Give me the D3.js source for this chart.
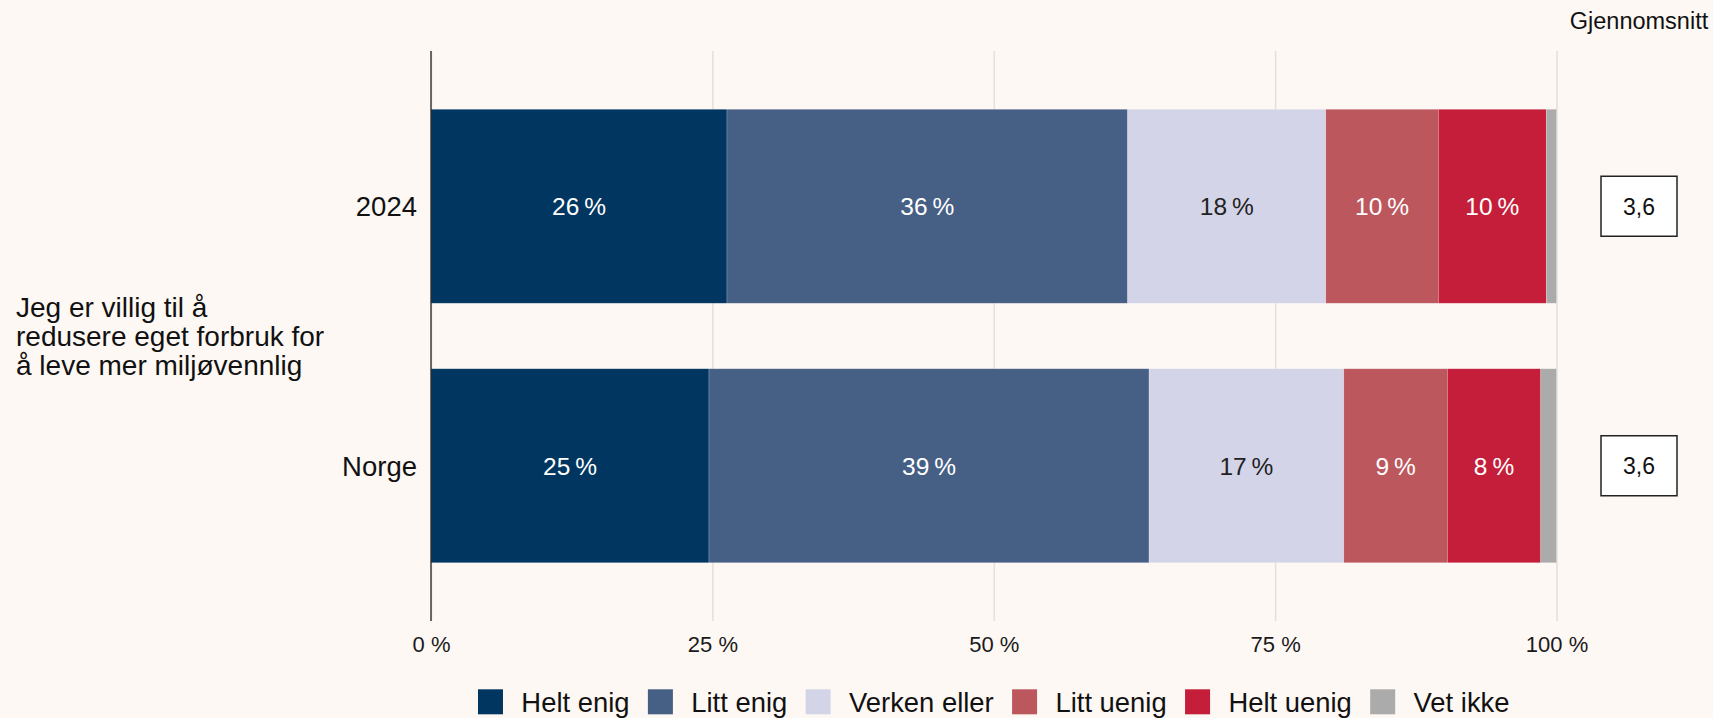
<!DOCTYPE html>
<html>
<head>
<meta charset="utf-8">
<script src="https://cdn.jsdelivr.net/npm/d3@7"></script>
<style>
  html, body { margin: 0; padding: 0; background: #fdf8f4; }
  svg { display: block; font-family: "Liberation Sans", Arial, sans-serif; }
</style>
</head>
<body>
<div id="chart"></div>
<script>
  // data (share of respondents, %)
  const categories = ["2024", "Norge"];
  const answers = ["Helt enig", "Litt enig", "Verken eller", "Litt uenig", "Helt uenig", "Vet ikke"];
  const values2024 = [26.3, 35.6, 17.6, 10.0, 9.6, 0.9];
  const valuesNorge = [24.7, 39.1, 17.3, 9.2, 8.3, 1.4];
  const means = ["3,6", "3,6"];
  const question = ["Jeg er villig til å", "redusere eget forbruk for", "å leve mer miljøvennlig"];
  const tickValues = [0, 25, 50, 75, 100];

  const colors = ["#003660", "#465f84", "#d4d4e9", "#bd575e", "#c41e3a", "#ababab"];
  const labelColors = ["#ffffff", "#ffffff", "#222222", "#ffffff", "#ffffff", null];

  const width = 1713, height = 718;
  const plot = { left: 431, right: 1556.5, top: 51, bottom: 621 };

  const svg = d3.select("#chart").append("svg")
    .attr("width", width)
    .attr("height", height);

  svg.append("rect").attr("width", width).attr("height", height).attr("fill", "#fdf8f4");

  const x = d3.scaleLinear().domain([0, 100]).range([plot.left, plot.right]);
  const y = d3.scaleBand()
    .domain(categories)
    .range([plot.top, plot.bottom])
    .paddingInner(0.2524)
    .paddingOuter(0.2245);

  // gridlines + tick labels
  const xAxis = svg.append("g")
    .attr("transform", `translate(0,${plot.bottom})`)
    .call(d3.axisBottom(x)
      .tickValues(tickValues)
      .tickSize(-(plot.bottom - plot.top))
      .tickPadding(15.5)
      .tickFormat(d => `${d} %`));
  xAxis.select(".domain").remove();
  xAxis.selectAll(".tick line").attr("stroke", "#e3dfdb").attr("stroke-width", 1.5);
  xAxis.selectAll(".tick text")
    .attr("font-size", 22)
    .attr("fill", "#1a1a1a")
    .attr("font-family", "Liberation Sans, Arial, sans-serif");

  // stacked rows
  const rows = [values2024, valuesNorge].map((vals, i) => {
    let acc = 0;
    return vals.map((v, j) => {
      const seg = { cat: categories[i], key: j, x0: acc, x1: acc + v, v };
      acc += v;
      return seg;
    });
  });

  const rowG = svg.append("g").selectAll("g")
    .data(rows)
    .join("g");

  rowG.selectAll("rect")
    .data(d => d)
    .join("rect")
      .attr("x", d => x(d.x0))
      .attr("y", d => y(d.cat))
      .attr("width", d => x(d.x1) - x(d.x0))
      .attr("height", y.bandwidth())
      .attr("fill", d => colors[d.key])
      .attr("stroke", "rgba(255,255,255,0.35)")
      .attr("stroke-width", 0.6);

  rowG.selectAll("text")
    .data(d => d.filter(s => labelColors[s.key]))
    .join("text")
      .attr("x", d => x((d.x0 + d.x1) / 2))
      .attr("y", d => y(d.cat) + y.bandwidth() / 2)
      .attr("dy", "0.36em")
      .attr("text-anchor", "middle")
      .attr("font-size", 24.5)
      .attr("fill", d => labelColors[d.key])
      .text(d => `${Math.round(d.v)}\u2009%`);

  // y axis line
  svg.append("line")
    .attr("x1", plot.left).attr("x2", plot.left)
    .attr("y1", plot.top).attr("y2", plot.bottom)
    .attr("stroke", "#222").attr("stroke-width", 1.3);

  // category labels
  svg.append("g").selectAll("text")
    .data(categories)
    .join("text")
      .attr("x", plot.left - 14)
      .attr("y", d => y(d) + y.bandwidth() / 2)
      .attr("dy", "0.36em")
      .attr("text-anchor", "end")
      .attr("font-size", 27.5)
      .attr("fill", "#111")
      .text(d => d);

  // question text
  const midY = (plot.top + plot.bottom) / 2;
  svg.append("text")
    .attr("x", 16)
    .attr("font-size", 28)
    .attr("fill", "#111")
    .selectAll("tspan")
    .data(question)
    .join("tspan")
      .attr("x", 16)
      .attr("y", (d, i) => midY + (i - 1) * 29.2)
      .attr("dy", "0.36em")
      .text(d => d);

  // mean column
  const meanX = 1639;
  svg.append("text")
    .attr("x", meanX)
    .attr("y", 29)
    .attr("text-anchor", "middle")
    .attr("font-size", 23.5)
    .attr("fill", "#111")
    .text("Gjennomsnitt");

  const meanG = svg.append("g").selectAll("g")
    .data(categories.map((c, i) => ({ cat: c, m: means[i] })))
    .join("g")
      .attr("transform", d => `translate(${meanX},${y(d.cat) + y.bandwidth() / 2})`);
  meanG.append("rect")
    .attr("x", -38).attr("y", -30)
    .attr("width", 76).attr("height", 60)
    .attr("fill", "#fff")
    .attr("stroke", "#222")
    .attr("stroke-width", 1.5);
  meanG.append("text")
    .attr("text-anchor", "middle")
    .attr("dy", "0.36em")
    .attr("font-size", 23)
    .attr("fill", "#111")
    .text(d => d.m);

  // legend
  const sw = 25, gapText = 18.4, gapItem = 18.4;
  const legend = svg.append("g");
  const items = legend.selectAll("g")
    .data(answers)
    .join("g");
  items.append("rect")
    .attr("width", sw).attr("height", sw)
    .attr("y", -sw / 2)
    .attr("fill", (d, i) => colors[i]);
  items.append("text")
    .attr("x", sw + gapText)
    .attr("dy", "0.36em")
    .attr("font-size", 27.4)
    .attr("fill", "#111")
    .text(d => d);

  let offset = 0;
  const widths = [];
  items.each(function () {
    const w = sw + gapText + d3.select(this).select("text").node().getComputedTextLength();
    widths.push(offset);
    offset += w + gapItem;
  });
  const total = offset - gapItem;
  const legendStart = (plot.left + plot.right) / 2 - total / 2;
  items.attr("transform", (d, i) => `translate(${legendStart + widths[i]},${701.8})`);
</script>
</body>
</html>
